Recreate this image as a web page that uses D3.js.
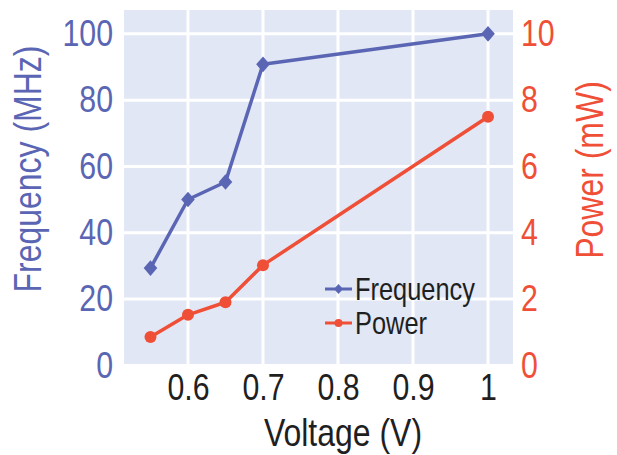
<!DOCTYPE html>
<html>
<head>
<meta charset="utf-8">
<script src="https://cdn.jsdelivr.net/npm/d3@7"></script>
<style>
  html, body { margin: 0; padding: 0; background: #fff; }
  svg { display: block; }
  text { font-family: "Liberation Sans", Arial, sans-serif; }
</style>
</head>
<body>
<svg id="chart" width="617" height="455"></svg>
<script>
// Supply voltage sweep
const voltages = [0.55, 0.6, 0.65, 0.7, 1.0];
// Max operating frequency (MHz), left axis
const frequency = [29.3, 50, 55.3, 90.8, 100];
// Power consumption (mW), right axis
const power = [0.85, 1.52, 1.9, 3.02, 7.5];

const xTicks = [0.6, 0.7, 0.8, 0.9, 1];
const xTickLabels = ["0.6", "0.7", "0.8", "0.9", "1"];
const freqTicks = [0, 20, 40, 60, 80, 100];
const powerTicks = [0, 2, 4, 6, 8, 10];
const seriesNames = ["Frequency", "Power"];

const BLUE = "#5a66b4";
const RED = "#f04f37";
const BG = "#e1e7f4";
const NARROW = 0.82;   // horizontal squeeze for a narrow sans look

const plot = { left: 124, right: 513, top: 10, bottom: 364 };

const svg = d3.select("#chart");

const x = d3.scaleLinear().domain([0.5147, 1.0333]).range([plot.left, plot.right]);
const yF = d3.scaleLinear().domain([0, 107.2]).range([365.2, plot.top]);
const yP = d3.scaleLinear().domain([0, 10.72]).range([365.2, plot.top]);

// condense a text element horizontally about its anchor point
function squeeze(sel) {
  sel.each(function () {
    const t = d3.select(this);
    const ax = +t.attr("x") || 0;
    const ay = +t.attr("y") || 0;
    const prev = t.attr("transform") || "";
    t.attr("transform", `${prev} translate(${ax},${ay}) scale(${NARROW},1) translate(${-ax},${-ay})`);
  });
}

// plot background
svg.append("rect")
  .attr("x", plot.left).attr("y", plot.top)
  .attr("width", plot.right - plot.left).attr("height", plot.bottom - plot.top)
  .attr("fill", BG);

// grid
const grid = svg.append("g").attr("stroke", "#fff").attr("stroke-width", 3);
grid.selectAll("line.v").data(xTicks).join("line")
  .attr("x1", d => x(d)).attr("x2", d => x(d))
  .attr("y1", plot.top).attr("y2", plot.bottom);
grid.selectAll("line.h").data(freqTicks.filter(d => d > 0)).join("line")
  .attr("x1", plot.left).attr("x2", plot.right)
  .attr("y1", d => yF(d)).attr("y2", d => yF(d));

// axes (labels only, no domain or tick marks)
const fs = 37;
const titleFs = 39;
const leftAxis = d3.axisLeft(yF).tickValues(freqTicks).tickSize(0).tickPadding(11);
const gl = svg.append("g").attr("transform", `translate(${plot.left},0)`).call(leftAxis);
const rightAxis = d3.axisRight(yP).tickValues(powerTicks).tickSize(0).tickPadding(8);
const gr = svg.append("g").attr("transform", `translate(${plot.right},0)`).call(rightAxis);
const bottomAxis = d3.axisBottom(x).tickValues(xTicks).tickFormat((d, i) => xTickLabels[i]).tickSize(0).tickPadding(10);
const gb = svg.append("g").attr("transform", `translate(0,${plot.bottom})`).call(bottomAxis);

[gl, gr, gb].forEach(g => {
  g.select(".domain").remove();
  g.attr("font-family", null).attr("font-size", null);
  g.selectAll("text").attr("font-size", fs).call(squeeze);
});
gl.selectAll("text").attr("fill", BLUE);
gr.selectAll("text").attr("fill", RED);
gb.selectAll("text").attr("fill", "#1f1f1f");

// axis titles
svg.append("text")
  .attr("transform", `translate(41,169) rotate(-90) scale(${NARROW},1)`)
  .attr("text-anchor", "middle").attr("font-size", titleFs).attr("fill", BLUE)
  .text("Frequency (MHz)");
svg.append("text")
  .attr("transform", `translate(603,170) rotate(-90) scale(${NARROW},1)`)
  .attr("text-anchor", "middle").attr("font-size", titleFs).attr("fill", RED)
  .text("Power (mW)");
svg.append("text")
  .attr("x", 343).attr("y", 446)
  .attr("text-anchor", "middle").attr("font-size", titleFs).attr("fill", "#1f1f1f")
  .text("Voltage (V)")
  .call(squeeze);

// series
const freqPts = voltages.map((v, i) => [x(v), yF(frequency[i])]);
const powPts = voltages.map((v, i) => [x(v), yP(power[i])]);
const line = d3.line();

svg.append("path").attr("d", line(freqPts))
  .attr("fill", "none").attr("stroke", BLUE).attr("stroke-width", 3.5).attr("stroke-linejoin", "round");
svg.append("path").attr("d", line(powPts))
  .attr("fill", "none").attr("stroke", RED).attr("stroke-width", 3.5).attr("stroke-linejoin", "round");

const diamond = (w, h) => `M0,${-h}L${w},0L0,${h}L${-w},0Z`;

svg.append("g").selectAll("path").data(freqPts).join("path")
  .attr("transform", d => `translate(${d[0]},${d[1]})`)
  .attr("d", diamond(6.8, 7.8)).attr("fill", BLUE);
svg.append("g").selectAll("circle").data(powPts).join("circle")
  .attr("cx", d => d[0]).attr("cy", d => d[1]).attr("r", 6).attr("fill", RED);

// legend
const legend = svg.append("g");
const legendRows = [
  { name: seriesNames[0], color: BLUE, y: 289, marker: "diamond" },
  { name: seriesNames[1], color: RED, y: 323, marker: "circle" }
];
legendRows.forEach(r => {
  legend.append("line").attr("x1", 325).attr("x2", 352).attr("y1", r.y).attr("y2", r.y)
    .attr("stroke", r.color).attr("stroke-width", 3);
  if (r.marker === "diamond") {
    legend.append("path").attr("transform", `translate(338.5,${r.y})`)
      .attr("d", diamond(4.5, 5)).attr("fill", r.color);
  } else {
    legend.append("circle").attr("cx", 338.5).attr("cy", r.y).attr("r", 4).attr("fill", r.color);
  }
  legend.append("text").attr("x", 355).attr("y", r.y + 11)
    .attr("font-size", 31).attr("fill", "#1f1f1f").text(r.name)
    .call(squeeze);
});
</script>
</body>
</html>
